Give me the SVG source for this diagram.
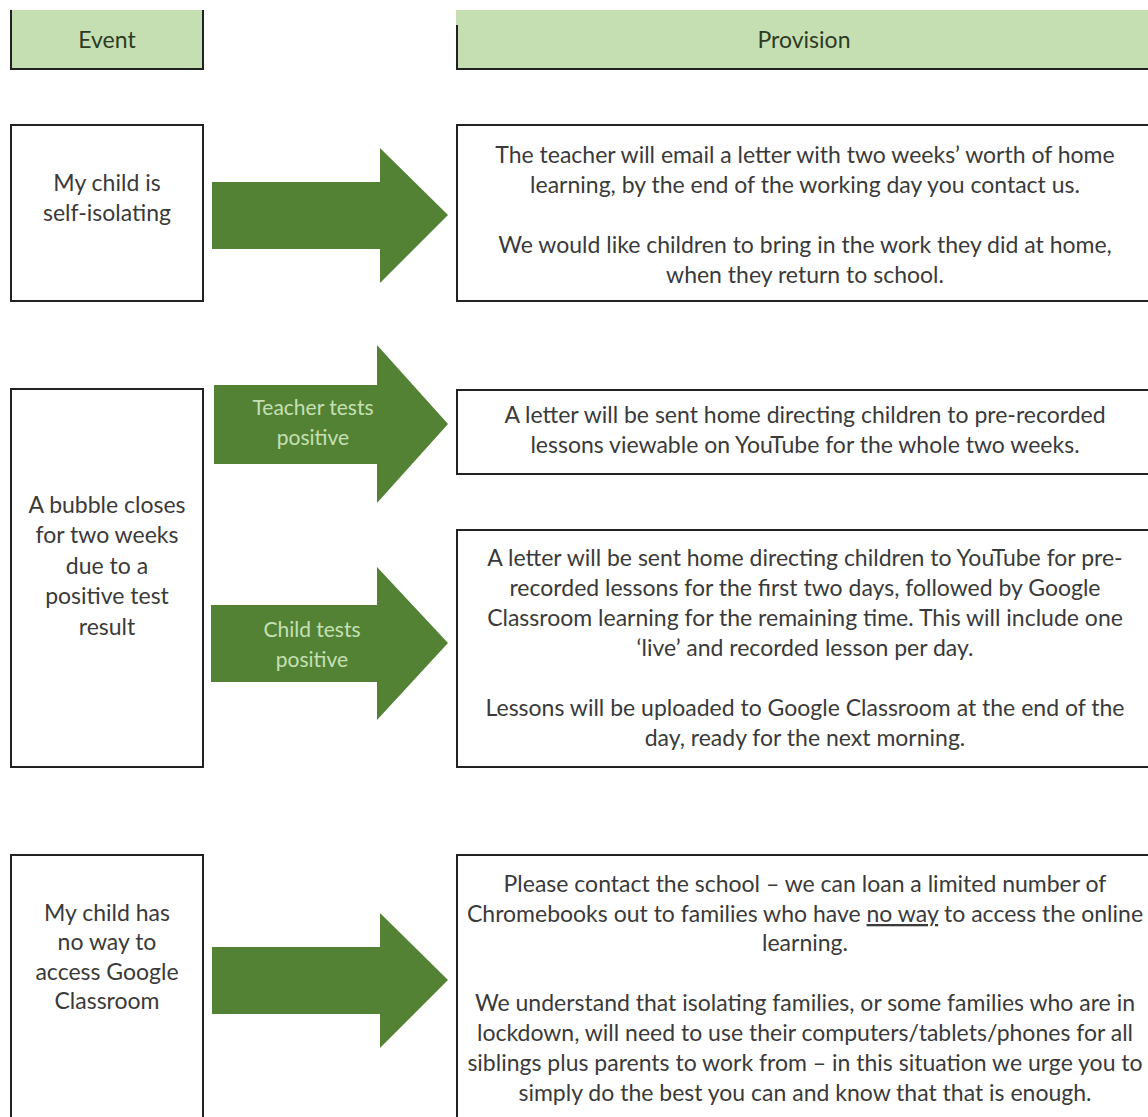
<svg xmlns="http://www.w3.org/2000/svg" width="1148" height="1117" viewBox="0 0 1148 1117">
<style>
.bg{fill:#ffffff}
.hdr{fill:#c5dfb2}
.ln{stroke:#222222;stroke-width:2;fill:none}
.box{fill:#ffffff;stroke:#222222;stroke-width:2}
.t{font-family:Lato,"Open Sans",sans-serif;font-size:23px;fill:#3a3a3a;text-anchor:middle}
.ht{font-family:Lato,"Open Sans",sans-serif;font-size:23px;fill:#2e3a24;text-anchor:middle}
.arr{fill:#548235}
.at{font-family:Lato,"Open Sans",sans-serif;font-size:21px;fill:#c5e0b4;text-anchor:middle}
.u{text-decoration:underline}
</style>
<rect class="bg" x="0" y="0" width="1148" height="1117"/>

<g id="hdr-event">
<rect class="hdr" x="10" y="10" width="193" height="59"/>
<path class="ln" d="M11,10 V69 H203 V10"/>
<text class="ht" x="107" y="48">Event</text>
</g>

<g id="hdr-provision">
<rect class="hdr" x="456" y="10" width="700" height="59"/>
<path class="ln" d="M457,25 V69 H1160"/>
<text class="ht" x="804" y="48">Provision</text>
</g>

<g id="event-self-isolating">
<rect class="box" x="11" y="125" width="192" height="176"/>
<text class="t" x="107" y="191">My child is</text>
<text class="t" x="107" y="221">self-isolating</text>
</g>

<g id="provision-self-isolating">
<rect class="box" x="457" y="125" width="710" height="176"/>
<text class="t" x="805" y="163">The teacher will email a letter with two weeks’ worth of home</text>
<text class="t" x="805" y="193">learning, by the end of the working day you contact us.</text>
<text class="t" x="805" y="253">We would like children to bring in the work they did at home,</text>
<text class="t" x="805" y="283">when they return to school.</text>
</g>

<g id="event-bubble">
<rect class="box" x="11" y="389" width="192" height="378"/>
<text class="t" x="107" y="513">A bubble closes</text>
<text class="t" x="107" y="543">for two weeks</text>
<text class="t" x="107" y="574">due to a</text>
<text class="t" x="107" y="604">positive test</text>
<text class="t" x="107" y="635">result</text>
</g>

<g id="provision-teacher">
<rect class="box" x="457" y="390" width="710" height="84"/>
<text class="t" x="805" y="423">A letter will be sent home directing children to pre-recorded</text>
<text class="t" x="805" y="453">lessons viewable on YouTube for the whole two weeks.</text>
</g>

<g id="provision-child">
<rect class="box" x="457" y="530" width="710" height="237"/>
<text class="t" x="805" y="566">A letter will be sent home directing children to YouTube for pre-</text>
<text class="t" x="805" y="596">recorded lessons for the first two days, followed by Google</text>
<text class="t" x="805" y="626">Classroom learning for the remaining time. This will include one</text>
<text class="t" x="805" y="656">‘live’ and recorded lesson per day.</text>
<text class="t" x="805" y="716">Lessons will be uploaded to Google Classroom at the end of the</text>
<text class="t" x="805" y="746">day, ready for the next morning.</text>
</g>

<g id="event-no-access">
<rect class="box" x="11" y="855" width="192" height="280"/>
<text class="t" x="107" y="921">My child has</text>
<text class="t" x="107" y="950">no way to</text>
<text class="t" x="107" y="980">access Google</text>
<text class="t" x="107" y="1009">Classroom</text>
</g>

<g id="provision-no-access">
<rect class="box" x="457" y="855" width="710" height="280"/>
<text class="t" x="805" y="892">Please contact the school – we can loan a limited number of</text>
<text class="t" x="805" y="922">Chromebooks out to families who have <tspan class="u">no way</tspan> to access the online</text>
<text class="t" x="805" y="951">learning.</text>
<text class="t" x="805" y="1011">We understand that isolating families, or some families who are in</text>
<text class="t" x="805" y="1041">lockdown, will need to use their computers/tablets/phones for all</text>
<text class="t" x="805" y="1071">siblings plus parents to work from – in this situation we urge you to</text>
<text class="t" x="805" y="1101">simply do the best you can and know that that is enough.</text>
</g>

<g id="connectors">
<path class="arr" d="M212,182 H380 V148 L448,215 L380,283 V249 H212 Z"/>
<path class="arr" d="M214,385 H377 V345 L448,424 L377,503 V464 H214 Z"/>
<text class="at" x="313" y="415">Teacher tests</text>
<text class="at" x="313" y="445">positive</text>
<path class="arr" d="M211,605 H377 V567 L448,643 L377,720 V682 H211 Z"/>
<text class="at" x="312" y="637">Child tests</text>
<text class="at" x="312" y="667">positive</text>
<path class="arr" d="M212,947 H380 V913 L448,980 L380,1048 V1014 H212 Z"/>
</g>
</svg>
